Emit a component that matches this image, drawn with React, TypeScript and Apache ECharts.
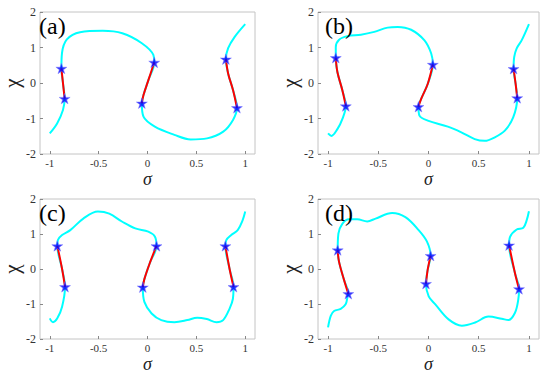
import React, { useEffect, useRef } from "react";
import * as echarts from "echarts";

type P = [number, number];

const sigmaTicks = [-1, -0.5, 0, 0.5, 1];
const panelLabels = ["(a)", "(b)", "(c)", "(d)"];

// Panel (a)
const aC1: P[] = [[-1.0, -1.42], [-0.925, -1.14], [-0.865, -0.76], [-0.848, -0.44]];
const aR1: P[] = [[-0.848, -0.44], [-0.865, 0], [-0.881, 0.41]];
const aC2: P[] = [[-0.881, 0.41], [-0.875, 0.84], [-0.825, 1.23], [-0.69, 1.43], [-0.458, 1.47], [-0.258, 1.4], [-0.058, 1.12], [0.06, 0.79], [0.069, 0.58]];
const aR2: P[] = [[0.069, 0.58], [0.009, 0.08], [-0.041, -0.34], [-0.058, -0.57]];
const aC3: P[] = [[-0.058, -0.57], [-0.041, -0.95], [0.075, -1.23], [0.275, -1.46], [0.442, -1.59], [0.609, -1.56], [0.775, -1.37], [0.875, -1.04], [0.915, -0.7]];
const aR3: P[] = [[0.915, -0.7], [0.875, -0.2], [0.825, 0.27], [0.802, 0.67]];
const aC4: P[] = [[0.802, 0.67], [0.825, 0.98], [0.892, 1.3], [1.0, 1.66]];

// Panel (b)
const bC1: P[] = [[-1.0, -1.42], [-0.967, -1.49], [-0.907, -1.3], [-0.857, -1.01], [-0.823, -0.65]];
const bR1: P[] = [[-0.823, -0.65], [-0.857, -0.21], [-0.907, 0.31], [-0.923, 0.71]];
const bC2: P[] = [[-0.923, 0.71], [-0.923, 1.01], [-0.89, 1.22], [-0.807, 1.32], [-0.673, 1.36], [-0.54, 1.44], [-0.407, 1.56], [-0.307, 1.58], [-0.173, 1.5], [-0.04, 1.2], [0.027, 0.83], [0.043, 0.52]];
const bR2: P[] = [[0.043, 0.52], [-0.007, -0.02], [-0.073, -0.45], [-0.1, -0.67]];
const bC3: P[] = [[-0.1, -0.67], [-0.09, -0.92], [-0.007, -1.06], [0.193, -1.23], [0.327, -1.39], [0.46, -1.58], [0.56, -1.63], [0.66, -1.53], [0.76, -1.34], [0.843, -0.97], [0.883, -0.42]];
const bR3: P[] = [[0.883, -0.42], [0.867, -0.02], [0.847, 0.4]];
const bC4: P[] = [[0.847, 0.4], [0.853, 0.73], [0.877, 0.97], [0.927, 1.2], [1.0, 1.66]];

// Panel (c)
const cC1: P[] = [[-1.0, -1.41], [-0.967, -1.52], [-0.923, -1.41], [-0.874, -1.08], [-0.844, -0.51]];
const cR1: P[] = [[-0.844, -0.51], [-0.874, 0.0], [-0.923, 0.66]];
const cC2: P[] = [[-0.923, 0.66], [-0.917, 0.83], [-0.874, 0.97], [-0.79, 1.11], [-0.657, 1.44], [-0.507, 1.64], [-0.391, 1.58], [-0.258, 1.35], [-0.125, 1.16], [0.008, 1.07], [0.075, 0.93], [0.092, 0.66]];
const cR2: P[] = [[0.092, 0.66], [0.025, 0.18], [-0.032, -0.29], [-0.048, -0.52]];
const cC3: P[] = [[-0.048, -0.52], [-0.032, -0.94], [0.042, -1.27], [0.141, -1.46], [0.275, -1.52], [0.408, -1.46], [0.508, -1.39], [0.607, -1.43], [0.707, -1.52], [0.774, -1.46], [0.84, -1.13], [0.874, -0.85], [0.88, -0.51]];
const cR3: P[] = [[0.88, -0.51], [0.84, 0.0], [0.797, 0.66]];
const cC4: P[] = [[0.797, 0.66], [0.807, 0.83], [0.857, 0.97], [0.923, 1.11], [0.973, 1.39], [1.0, 1.64]];

// Panel (d)
const dC1: P[] = [[-1.0, -1.67], [-0.973, -1.34], [-0.94, -1.2], [-0.874, -1.14], [-0.825, -1.01], [-0.808, -0.82], [-0.798, -0.71]];
const dR1: P[] = [[-0.798, -0.71], [-0.841, -0.31], [-0.891, 0.21], [-0.904, 0.54]];
const dC2: P[] = [[-0.904, 0.54], [-0.897, 1.01], [-0.858, 1.29], [-0.792, 1.42], [-0.709, 1.42], [-0.61, 1.36], [-0.527, 1.44], [-0.362, 1.6], [-0.23, 1.48], [-0.098, 1.11], [-0.015, 0.78], [0.021, 0.38]];
const dR2: P[] = [[0.021, 0.38], [-0.008, -0.02], [-0.025, -0.42]];
const dC3: P[] = [[-0.025, -0.42], [0.002, -0.78], [0.068, -1.01], [0.2, -1.44], [0.332, -1.62], [0.464, -1.53], [0.597, -1.36], [0.729, -1.42], [0.795, -1.46], [0.861, -1.25], [0.894, -0.87], [0.901, -0.57]];
const dR3: P[] = [[0.901, -0.57], [0.861, -0.12], [0.802, 0.68]];
const dC4: P[] = [[0.802, 0.68], [0.812, 0.92], [0.878, 1.13], [0.944, 1.18], [0.977, 1.39], [1.0, 1.65]];

const panels: P[][][] = [
  [aC1, aR1, aC2, aR2, aC3, aR3, aC4],
  [bC1, bR1, bC2, bR2, bC3, bR3, bC4],
  [cC1, cR1, cC2, cR2, cC3, cR3, cC4],
  [dC1, dR1, dC2, dR2, dC3, dR3, dC4],
];

const grids = [
  { left: 35, top: 12, width: 220, height: 142 },
  { left: 318, top: 12, width: 221, height: 142 },
  { left: 35, top: 199, width: 220, height: 142 },
  { left: 318, top: 199, width: 221, height: 142 },
];

const STAR = "path://M50,0 L61.2,34.5 L97.6,34.5 L68.2,55.9 L79.4,90.5 L50,69.1 L20.6,90.5 L31.8,55.9 L2.4,34.5 L38.8,34.5 Z";
const FONT = "Liberation Serif";

export default function App() {
  const ref = useRef<HTMLDivElement>(null);
  useEffect(() => {
    if (!ref.current) return;
    const chart = echarts.init(ref.current, undefined, { renderer: "svg" });
    const xAxis: any[] = [];
    const yAxis: any[] = [];
    const series: any[] = [];
    const graphic: any[] = [];
    panels.forEach((segs, i) => {
      xAxis.push({
        type: "value", gridIndex: i, min: -1.1, max: 1.1,
        name: "σ", nameLocation: "middle", nameGap: 16, nameMoveOverlap: false,
        nameTextStyle: { fontFamily: FONT, fontStyle: "italic", fontSize: 18, color: "#222" },
        axisLine: { show: false, onZero: false },
        axisTick: { show: true, inside: true, length: 3, lineStyle: { color: "#888" }, customValues: sigmaTicks },
        axisLabel: { fontFamily: FONT, fontSize: 11, color: "#333", margin: 3, customValues: sigmaTicks },
        splitLine: { show: false },
      });
      yAxis.push({
        type: "value", gridIndex: i, min: -2, max: 2, interval: 1,
        name: "χ", nameLocation: "middle", nameGap: 18, nameRotate: 90,
        nameTextStyle: { fontFamily: FONT, fontSize: 21, color: "#222" },
        axisLine: { show: false, onZero: false },
        axisTick: { show: true, inside: true, length: 3, lineStyle: { color: "#888" } },
        axisLabel: { fontFamily: FONT, fontSize: 12, color: "#333", margin: 4 },
        splitLine: { show: false },
      });
      const full: P[] = [];
      segs.forEach((s, k) => {
        s.forEach((p, j) => {
          if (k > 0 && j === 0) return;
          full.push(p);
        });
      });
      series.push({
        type: "line", xAxisIndex: i, yAxisIndex: i, data: full, smooth: 0.35,
        showSymbol: false, lineStyle: { color: "#00ffff", width: 2 }, z: 2,
      });
      const stars: P[] = [];
      [segs[1], segs[3], segs[5]].forEach((r) => {
        series.push({
          type: "line", xAxisIndex: i, yAxisIndex: i, data: r, smooth: 0.35,
          showSymbol: false, lineStyle: { color: "#ff0000", width: 2 }, z: 3,
        });
        stars.push(r[0], r[r.length - 1]);
      });
      series.push({
        type: "scatter", xAxisIndex: i, yAxisIndex: i, data: stars,
        symbol: STAR, symbolSize: 11, symbolKeepAspect: true,
        itemStyle: { color: "#0000ff", borderColor: "#7a7aff", borderWidth: 0.6 }, z: 4,
      });
      graphic.push({
        type: "text", left: grids[i].left + (i % 2 === 0 ? 4 : 7), top: grids[i].top + 2,
        style: { text: panelLabels[i], fontFamily: FONT, fontSize: 24, fill: "#000" },
        z: 10,
      });
    });
    chart.setOption({
      animation: false,
      backgroundColor: "#fff",
      textStyle: { fontFamily: FONT },
      grid: grids.map((g) => ({ ...g, show: true, borderColor: "#c4c4c4", borderWidth: 1, backgroundColor: "transparent" })),
      xAxis, yAxis, series, graphic,
    });
    return () => chart.dispose();
  }, []);
  return <div ref={ref} style={{ position: "fixed", left: 0, top: 0, width: 550, height: 374 }} />;
}
